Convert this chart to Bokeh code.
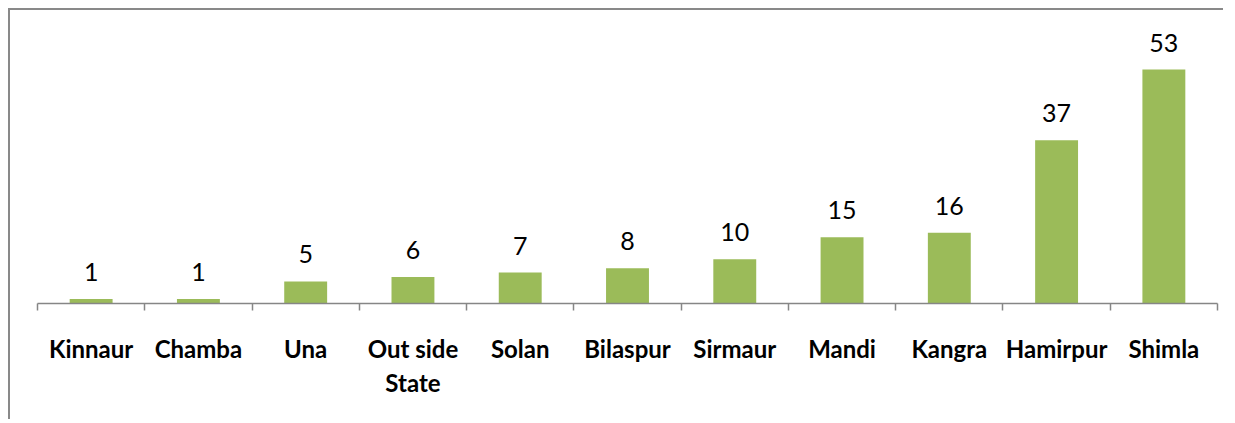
from bokeh.plotting import figure
from bokeh.models import ColumnDataSource, Range1d, LinearAxis, FixedTicker
from bokeh.core.properties import value
from bokeh.embed import file_html
from bokeh.resources import INLINE

districts = ["Kinnaur", "Chamba", "Una", "Out side\nState", "Solan", "Bilaspur",
             "Sirmaur", "Mandi", "Kangra", "Hamirpur", "Shimla"]
counts = [1, 1, 5, 6, 7, 8, 10, 15, 16, 37, 53]

BAR = "#9BBB59"
GRAY = "#868686"
FONT = "Lato"

n = len(districts)
centers = [i + 0.5 for i in range(n)]
edges = list(range(n + 1))
src = ColumnDataSource(dict(x=centers, y=counts, lbl=[str(c) for c in counts]))

p = figure(width=1215, height=411, x_range=Range1d(0, n),
           y_range=Range1d(0, 64.1), output_backend="svg", toolbar_location=None,
           x_axis_location=None, y_axis_location=None)
p.styles = {"border-top": "2px solid #898989", "border-left": "2px solid #898989",
            "margin-top": "8px", "margin-left": "8px"}
p.min_border_left = 27
p.min_border_right = 8
p.min_border_top = 10
p.min_border_bottom = 118
p.outline_line_color = None
p.background_fill_color = "white"
p.border_fill_color = "white"
p.grid.visible = False

p.vbar(x="x", top="y", width=0.4, source=src, fill_color=BAR, line_color=None)
p.text(x="x", y="y", text="lbl", source=src, text_align="center",
       text_baseline="bottom", y_offset=-18, text_font=value(FONT),
       text_font_size="25px", text_color="#000000")

axis = LinearAxis(ticker=FixedTicker(ticks=centers, minor_ticks=edges),
                  major_label_overrides={c: d for c, d in zip(centers, districts)},
                  axis_line_color=GRAY, axis_line_width=1.5,
                  major_tick_line_color=None, major_tick_in=0, major_tick_out=0,
                  minor_tick_line_color=GRAY, minor_tick_line_width=1.5,
                  minor_tick_in=0, minor_tick_out=7,
                  major_label_standoff=23,
                  major_label_text_font=FONT,
                  major_label_text_font_style="bold",
                  major_label_text_font_size="24px",
                  major_label_text_color="#000000")
p.add_layout(axis, "below")

open("out.html", "w").write(file_html(p, INLINE))
